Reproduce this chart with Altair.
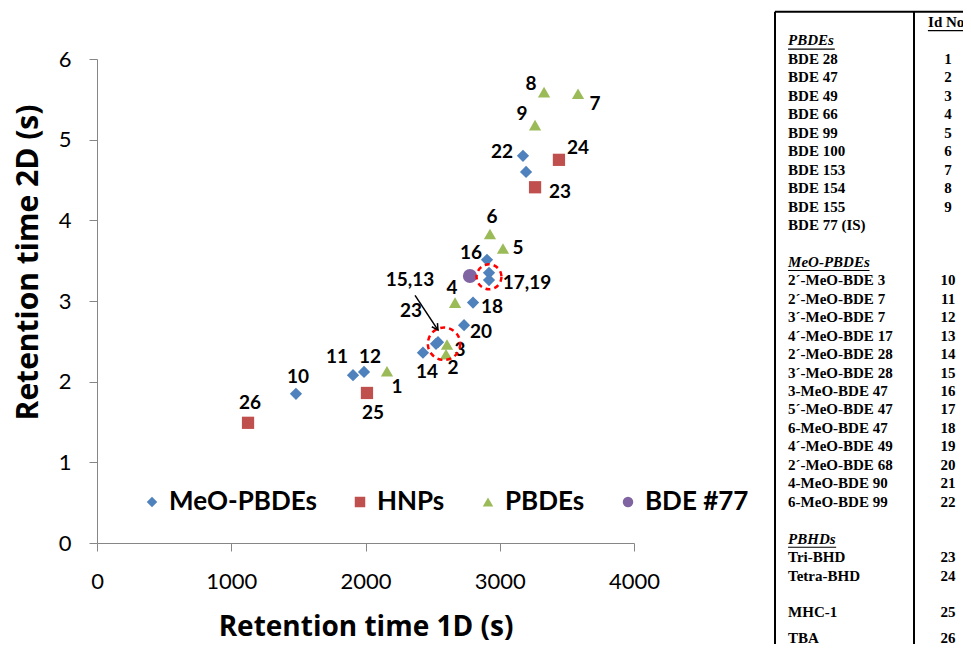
import altair as alt
import pandas as pd

# ---------------- scatter data ----------------
GROUPS = ["MeO-PBDEs", "HNPs", "PBDEs", "BDE #77"]
COLORS = ["#4F81BD", "#C0504D", "#9BBB59", "#8064A2"]
SHAPES = ["diamond", "square", "triangle-up", "circle"]

MEO_IDS = [10, 11, 12, 13, 14, 15, 16, 17, 18, 19, 20, 21, 22]
MEO_RT1 = [1482, 1907, 1989, 2540, 2428, 2525, 2905, 2920, 2801, 2920, 2734, 3196, 3173]
MEO_RT2 = [1.85, 2.08, 2.12, 2.49, 2.36, 2.47, 3.51, 3.35, 2.98, 3.26, 2.70, 4.60, 4.80]

HNP_IDS = [23, 24, 25, 26]
HNP_RT1 = [3263, 3441, 2011, 1125]
HNP_RT2 = [4.41, 4.75, 1.86, 1.49]

PBDE_IDS = [1, 2, 3, 4, 5, 6, 7, 8, 9]
PBDE_RT1 = [2160, 2600, 2607, 2667, 3024, 2927, 3583, 3330, 3263]
PBDE_RT2 = [2.13, 2.34, 2.46, 2.98, 3.65, 3.83, 5.57, 5.59, 5.18]

IS_IDS = [77]
IS_RT1 = [2778]
IS_RT2 = [3.31]

# point annotations
LABEL_TEXT = ["26", "10", "11", "12", "1", "25", "14", "2", "3", "20", "23", "15,13",
              "4", "18", "8", "7", "9", "22", "24", "23", "6", "5", "16", "17,19"]
LABEL_RT1 = [1140, 1497, 1788, 2034, 2235, 2056, 2458, 2652, 2704, 2860, 2339, 2331,
             2644, 2942, 3233, 3709, 3166, 3017, 3583, 3449, 2942, 3136, 2786, 3203]
LABEL_RT2 = [1.74, 2.06, 2.31, 2.31, 1.93, 1.61, 2.12, 2.17, 2.39, 2.62, 2.88, 3.26,
             3.16, 2.93, 5.69, 5.44, 5.32, 4.85, 4.90, 4.35, 4.04, 3.66, 3.60, 3.22]

# dashed highlight circles (centres)
HL_BIG_RT1, HL_BIG_RT2 = [2585], [2.47]
HL_SMALL_RT1, HL_SMALL_RT2 = [2920], [3.30]

# arrow from the "15,13 / 23" labels into the circle
ARROW_RT1 = [2369]
ARROW_RT2 = [3.07]
ARROW_END_RT1 = [2540]
ARROW_END_RT2 = [2.64]

# ---------------- table data ----------------
TABLE_NAMES = ["BDE 28", "BDE 47", "BDE 49", "BDE 66", "BDE 99", "BDE 100", "BDE 153",
               "BDE 154", "BDE 155", "BDE 77 (IS)",
               "2´-MeO-BDE 3", "2´-MeO-BDE 7", "3´-MeO-BDE 7", "4´-MeO-BDE 17",
               "2´-MeO-BDE 28", "3´-MeO-BDE 28", "3-MeO-BDE 47", "5´-MeO-BDE 47",
               "6-MeO-BDE 47", "4´-MeO-BDE 49", "2´-MeO-BDE 68", "4-MeO-BDE 90",
               "6-MeO-BDE 99",
               "Tri-BHD", "Tetra-BHD", "MHC-1", "TBA"]
TABLE_IDS = ["1", "2", "3", "4", "5", "6", "7", "8", "9", "",
             "10", "11", "12", "13", "14", "15", "16", "17", "18", "19", "20", "21", "22",
             "23", "24", "25", "26"]
TABLE_LINES = [2, 3, 4, 5, 6, 7, 8, 9, 10, 11,
               14, 15, 16, 17, 18, 19, 20, 21, 22, 23, 24, 25, 26,
               29, 30, 32, 33.4]
TABLE_HEADS = ["PBDEs", "MeO-PBDEs", "PBHDs"]
TABLE_HEAD_LINES = [1, 13, 28]
ID_HEADER = ["Id No."]
ID_HEADER_LINE = [0]

# ---------------- frames ----------------
pts = pd.DataFrame({
    "id": MEO_IDS + HNP_IDS + PBDE_IDS + IS_IDS,
    "rt1": MEO_RT1 + HNP_RT1 + PBDE_RT1 + IS_RT1,
    "rt2": MEO_RT2 + HNP_RT2 + PBDE_RT2 + IS_RT2,
    "group": ["MeO-PBDEs"] * len(MEO_IDS) + ["HNPs"] * len(HNP_IDS)
             + ["PBDEs"] * len(PBDE_IDS) + ["BDE #77"] * len(IS_IDS),
})
labels = pd.DataFrame({"text": LABEL_TEXT, "rt1": LABEL_RT1, "rt2": LABEL_RT2})
hl_big = pd.DataFrame({"rt1": HL_BIG_RT1, "rt2": HL_BIG_RT2})
hl_small = pd.DataFrame({"rt1": HL_SMALL_RT1, "rt2": HL_SMALL_RT2})
arrow = pd.DataFrame({"rt1": ARROW_RT1, "rt2": ARROW_RT2,
                      "rt1e": ARROW_END_RT1, "rt2e": ARROW_END_RT2})

xscale = alt.Scale(domain=[0, 4000], nice=False, zero=False)
yscale = alt.Scale(domain=[0, 6], nice=False, zero=False)

FONT = "Lato"
TITLE_FONT = "Open Sans"
xaxis = alt.Axis(values=[0, 1000, 2000, 3000, 4000], format="d", grid=False,
                 title="Retention time 1D (s)", domainColor="#868686", tickColor="#868686",
                 tickSize=8, labelFont=FONT, labelFontSize=22, labelColor="black",
                 labelPadding=20, labelFlush=False, titleFont=TITLE_FONT, titleFontSize=28,
                 titleFontWeight="bold", titleColor="black", titlePadding=21)
yaxis = alt.Axis(values=[0, 1, 2, 3, 4, 5, 6], format="d", grid=False,
                 title="Retention time 2D (s)", domainColor="#868686", tickColor="#868686",
                 tickSize=8, labelFont=FONT, labelFontSize=22, labelColor="black",
                 labelPadding=18, labelFlush=False, titleFont=TITLE_FONT, titleFontSize=30,
                 titleFontWeight="bold", titleColor="black", titlePadding=15, titleY=203)

legend = alt.Legend(orient="none", legendX=42, legendY=430, direction="horizontal",
                    columns=4, title=None, labelFont=FONT, labelFontSize=26,
                    labelFontWeight="bold", labelColor="black", symbolSize=110,
                    labelOffset=4, columnPadding=30, padding=0, labelLimit=400)


def X(field):
    return alt.X(field, scale=xscale, axis=xaxis)


def Y(field):
    return alt.Y(field, scale=yscale, axis=yaxis)


points = alt.Chart(pts).mark_point(filled=True, opacity=1).encode(
    x=X("rt1:Q"),
    y=Y("rt2:Q"),
    color=alt.Color("group:N", scale=alt.Scale(domain=GROUPS, range=COLORS), legend=legend),
    shape=alt.Shape("group:N", scale=alt.Scale(domain=GROUPS, range=SHAPES), legend=legend),
    size=alt.condition("datum.group == 'BDE #77'", alt.value(200), alt.value(150)),
)

label_layer = alt.Chart(labels).mark_text(
    font=FONT, fontSize=19, fontWeight="bold", color="black", baseline="middle"
).encode(x=X("rt1:Q"), y=Y("rt2:Q"), text="text:N")

hl1 = alt.Chart(hl_big).mark_point(shape="circle", filled=False, color="#FF0000",
                                   strokeWidth=2.5, strokeDash=[5, 4], size=1050, opacity=1
                                   ).encode(x=X("rt1:Q"), y=Y("rt2:Q"))
hl2 = alt.Chart(hl_small).mark_point(shape="circle", filled=False, color="#FF0000",
                                     strokeWidth=2.5, strokeDash=[5, 4], size=620, opacity=1
                                     ).encode(x=X("rt1:Q"), y=Y("rt2:Q"))

arrow_line = alt.Chart(arrow).mark_rule(color="black", strokeWidth=1.5).encode(
    x=X("rt1:Q"), y=Y("rt2:Q"), x2="rt1e:Q", y2="rt2e:Q",
)
arrow_head = alt.Chart(arrow).mark_point(
    shape="M-0.55,-1L0,0L0.55,-1", filled=False, color="black", strokeWidth=1.5,
    size=150, angle=326.7, opacity=1
).encode(x=X("rt1e:Q"), y=Y("rt2e:Q"))

scatter = alt.layer(points, label_layer, hl1, hl2, arrow_line, arrow_head)

# ---------------- table ----------------
tx = alt.Scale(domain=[0, 1], range=[678, 817], nice=False, zero=False)
ty = alt.Scale(domain=[0, 34], range=[-37, 590.3], nice=False, zero=False)
TFONT = "Liberation Serif"
TSIZE = 15
NAME_COL = 0.094
ID_COL = 1.245

names_df = pd.DataFrame({"name": TABLE_NAMES, "line": TABLE_LINES, "col": NAME_COL})
ids_df = pd.DataFrame({"id": TABLE_IDS, "line": TABLE_LINES, "col": ID_COL})
heads_df = pd.DataFrame({"name": TABLE_HEADS, "line": TABLE_HEAD_LINES, "col": NAME_COL,
                         "uend": [0.43, 0.68, 0.44]})
idh_df = pd.DataFrame({"name": ID_HEADER, "line": ID_HEADER_LINE, "col": 1.245,
                       "u0": [1.10], "u1": [1.39]})
vborders = pd.DataFrame({"col": [0.0, 1.0], "top": [-0.55, -0.55], "bottom": [40, 40]})
hborder = pd.DataFrame({"c0": [0.0], "c1": [2.5], "line": [-0.55]})

TX = lambda f: alt.X(f, scale=tx, axis=None)
TY = lambda f: alt.Y(f, scale=ty, axis=None)

t_names = alt.Chart(names_df).mark_text(font=TFONT, fontSize=TSIZE, fontWeight="bold",
                                        align="left", baseline="middle", color="black").encode(
    x=TX("col:Q"), y=TY("line:Q"), text="name:N")
t_ids = alt.Chart(ids_df).mark_text(font=TFONT, fontSize=TSIZE, fontWeight="bold",
                                    align="center", baseline="middle", color="black").encode(
    x=TX("col:Q"), y=TY("line:Q"), text="id:N")
t_heads = alt.Chart(heads_df).mark_text(font=TFONT, fontSize=TSIZE, fontWeight="bold",
                                        fontStyle="italic", align="left", baseline="middle",
                                        color="black").encode(
    x=TX("col:Q"), y=TY("line:Q"), text="name:N")
t_heads_u = alt.Chart(heads_df).transform_calculate(uy="datum.line + 0.47").mark_rule(
    color="black", strokeWidth=1.2).encode(x=TX("col:Q"), x2="uend:Q", y=TY("uy:Q"))
t_idh = alt.Chart(idh_df).mark_text(font=TFONT, fontSize=TSIZE, fontWeight="bold",
                                    align="center", baseline="middle", color="black").encode(
    x=TX("col:Q"), y=TY("line:Q"), text="name:N")
t_idh_u = alt.Chart(idh_df).transform_calculate(uy="datum.line + 0.47").mark_rule(
    color="black", strokeWidth=1.2).encode(x=TX("u0:Q"), x2="u1:Q", y=TY("uy:Q"))
t_v = alt.Chart(vborders).mark_rule(color="black", strokeWidth=2).encode(
    x=TX("col:Q"), y=TY("top:Q"), y2="bottom:Q")
t_h = alt.Chart(hborder).mark_rule(color="black", strokeWidth=2).encode(
    x=TX("c0:Q"), x2="c1:Q", y=TY("line:Q"))

table = alt.layer(t_v, t_h, t_names, t_ids, t_heads, t_heads_u, t_idh, t_idh_u)

chart = alt.layer(scatter, table).resolve_scale(
    x="independent", y="independent"
).properties(
    width=537, height=484,
    autosize=alt.AutoSizeParams(type="none"),
    padding={"left": 89, "top": 51, "right": 329, "bottom": 101},
).configure_view(stroke=None)

chart.save("out.html", embed_options={"renderer": "svg", "actions": False})
